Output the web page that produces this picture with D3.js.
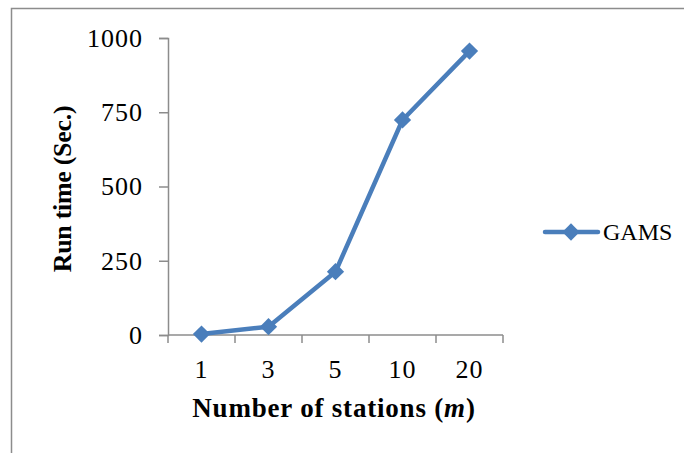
<!DOCTYPE html>
<html>
<head>
<meta charset="utf-8">
<script src="https://cdn.jsdelivr.net/npm/d3@7"></script>
<style>
  body { margin: 0; background: #fff; }
  text { font-family: "Liberation Serif", serif; fill: #000; }
</style>
</head>
<body>
<div id="chart"></div>
<script>
// chart data
const stations = ['1', '3', '5', '10', '20'];
const runTime = [3, 28, 213, 724, 956];
const yTicks = [0, 250, 500, 750, 1000];
const seriesName = 'GAMS';

const W = 684;
const H = 453;
const blue = '#4a7ebb';

const svg = d3.select('#chart')
  .append('svg')
  .attr('width', W)
  .attr('height', H);

// outer frame (runs off right and bottom)
svg.append('rect')
  .attr('x', 11.5)
  .attr('y', 8.5)
  .attr('width', W + 20)
  .attr('height', H + 20)
  .attr('fill', 'none')
  .attr('stroke', '#8c8c8c')
  .attr('stroke-width', 1.5);

const x = d3.scaleBand()
  .domain(stations)
  .range([168, 503]);

const y = d3.scaleLinear()
  .domain([0, 1000])
  .range([335, 38]);

// y axis
const yAxis = svg.append('g')
  .attr('transform', 'translate(168,0)')
  .call(d3.axisLeft(y).tickValues(yTicks).tickFormat(d3.format('d')).tickSize(9).tickPadding(16));
yAxis.select('.domain').attr('stroke', '#8c8c8c').attr('stroke-width', 1.5);
yAxis.selectAll('.tick line').attr('stroke', '#8c8c8c').attr('stroke-width', 1.5);
yAxis.selectAll('.tick text')
  .style('font-family', '"Liberation Serif", serif')
  .style('font-size', '26px')
  .style('letter-spacing', '1px')
  .attr('fill', '#000');

// x axis with ticks on band edges
const xAxis = svg.append('g')
  .attr('transform', 'translate(0,335)');
xAxis.append('line')
  .attr('x1', x.range()[0])
  .attr('x2', x.range()[1])
  .attr('stroke', '#8c8c8c')
  .attr('stroke-width', 1.5);
const edges = stations.map((s) => x(s)).concat([x.range()[1]]);
xAxis.selectAll('.xtick')
  .data(edges)
  .enter()
  .append('line')
  .attr('x1', (d) => d)
  .attr('x2', (d) => d)
  .attr('y1', 0)
  .attr('y2', 8)
  .attr('stroke', '#8c8c8c')
  .attr('stroke-width', 1.5);
xAxis.selectAll('.xlabel')
  .data(stations)
  .enter()
  .append('text')
  .attr('x', (d) => x(d) + x.bandwidth() / 2)
  .attr('y', 43)
  .attr('text-anchor', 'middle')
  .style('font-size', '26px')
  .style('letter-spacing', '1px')
  .text((d) => d);

// axis titles
const xTitle = svg.append('text')
  .attr('x', 334)
  .attr('y', 417)
  .attr('text-anchor', 'middle')
  .style('font-size', '27px')
  .style('letter-spacing', '0.8px')
  .style('font-weight', 'bold');
xTitle.append('tspan').text('Number of stations (');
xTitle.append('tspan').style('font-style', 'italic').text('m');
xTitle.append('tspan').text(')');

svg.append('text')
  .attr('transform', 'translate(71,189) rotate(-90)')
  .attr('text-anchor', 'middle')
  .style('font-size', '26px')
  .style('letter-spacing', '-0.3px')
  .style('font-weight', 'bold')
  .text('Run time (Sec.)');

// series line
const cx = (d, i) => x(stations[i]) + x.bandwidth() / 2;
const line = d3.line()
  .x((d, i) => cx(d, i))
  .y((d) => y(d));

svg.append('path')
  .datum(runTime)
  .attr('d', line)
  .attr('fill', 'none')
  .attr('stroke', blue)
  .attr('stroke-width', 4.5)
  .attr('stroke-linejoin', 'round');

const diamond = d3.symbol().type(d3.symbolDiamond2).size(190);
svg.selectAll('.marker')
  .data(runTime)
  .enter()
  .append('path')
  .attr('class', 'marker')
  .attr('d', diamond)
  .attr('transform', (d, i) => `translate(${cx(d, i)},${y(d)})`)
  .attr('fill', blue);

// legend
const lg = svg.append('g').attr('transform', 'translate(0,232)');
lg.append('line')
  .attr('x1', 545)
  .attr('x2', 598)
  .attr('stroke', blue)
  .attr('stroke-width', 4.5)
  .attr('stroke-linecap', 'round');
lg.append('path')
  .attr('d', diamond)
  .attr('transform', 'translate(571,0)')
  .attr('fill', blue);
lg.append('text')
  .attr('x', 603)
  .attr('y', 8)
  .style('font-size', '24px')
  .text(seriesName);
</script>
</body>
</html>
